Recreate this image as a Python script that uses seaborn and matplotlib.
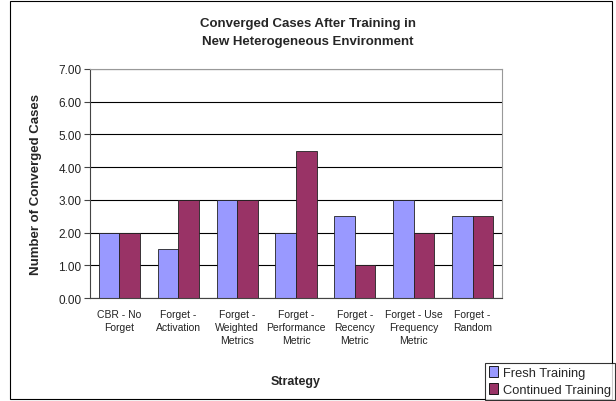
import matplotlib
matplotlib.use("Agg")
import matplotlib.pyplot as plt
import numpy as np
import pandas as pd
import seaborn as sns
from matplotlib.patches import Patch, Rectangle

# %%
strategies = ["CBR - No\nForget", "Forget -\nActivation", "Forget -\nWeighted\nMetrics",
              "Forget -\nPerformance\nMetric", "Forget -\nRecency\nMetric",
              "Forget - Use\nFrequency\nMetric", "Forget -\nRandom"]
fresh = [2.0, 1.5, 3.0, 2.0, 2.5, 3.0, 2.5]
continued = [2.0, 3.0, 3.0, 4.5, 1.0, 2.0, 2.5]
series_names = ["Fresh Training", "Continued Training"]
y_ticks = [0, 1, 2, 3, 4, 5, 6, 7]

df = pd.DataFrame({
    "Strategy": strategies * 2,
    "Value": fresh + continued,
    "Series": [series_names[0]] * len(fresh) + [series_names[1]] * len(continued),
})

# %%
sns.set_style("white")
plt.rcParams["font.family"] = ["Liberation Sans", "DejaVu Sans"]

fig = plt.figure(figsize=(6.16, 4.02), dpi=100)
ax = fig.add_axes([0.146, 0.256, 0.669, 0.570])

sns.barplot(data=df, x="Strategy", y="Value", hue="Series",
            palette=["#9999FF", "#993366"], width=0.7,
            edgecolor="#222222", linewidth=0.6, saturation=1, ax=ax, legend=False)

ax.set_ylim(0, 7)
ax.set_xlim(-0.5, len(strategies) - 0.5)
ax.set_yticks(y_ticks)
ax.set_yticklabels([f"{v:.2f}" for v in y_ticks], fontsize=8.5, color="#222222")
ax.set_xticks(range(len(strategies)))
ax.set_xticklabels(strategies, fontsize=7.5, color="#222222", linespacing=1.35)
ax.tick_params(axis="x", length=0, pad=8)
ax.set_xticks(np.arange(-0.5, len(strategies), 1), minor=True)
ax.tick_params(axis="x", which="minor", length=4, color="#444444", direction="out")
ax.tick_params(axis="y", length=4, color="#444444", direction="out", left=True, pad=2)
ax.yaxis.grid(True, color="black", linewidth=0.8)
ax.set_axisbelow(True)
for side in ["top", "right"]:
    ax.spines[side].set_color("#999999")
for side in ["left", "bottom"]:
    ax.spines[side].set_color("#444444")

ax.set_xlabel("Strategy", fontsize=9, fontweight="bold", labelpad=22)
ax.set_ylabel("Number of Converged Cases", fontsize=9.5, fontweight="bold", labelpad=12)
fig.text(0.5, 0.918, "Converged Cases After Training in\nNew Heterogeneous Environment",
         ha="center", va="center", fontsize=9.5, fontweight="bold", linespacing=1.75)

handles = [Patch(facecolor="#9999FF", edgecolor="black", linewidth=0.6),
           Patch(facecolor="#993366", edgecolor="black", linewidth=0.6)]
leg = fig.legend(handles, series_names, loc="lower right", bbox_to_anchor=(0.998, 0.003),
                 fontsize=9.3, frameon=True, fancybox=False, edgecolor="black",
                 handlelength=0.7, handleheight=0.9, handletextpad=0.4,
                 borderpad=0.3, labelspacing=0.3, borderaxespad=0)
leg.get_frame().set_linewidth(0.8)

fig.patches.append(Rectangle((0.016, 0.005), 0.977, 0.99, transform=fig.transFigure,
                             fill=False, edgecolor="black", linewidth=0.8, zorder=-1))

fig.savefig("out.png", dpi=100)
